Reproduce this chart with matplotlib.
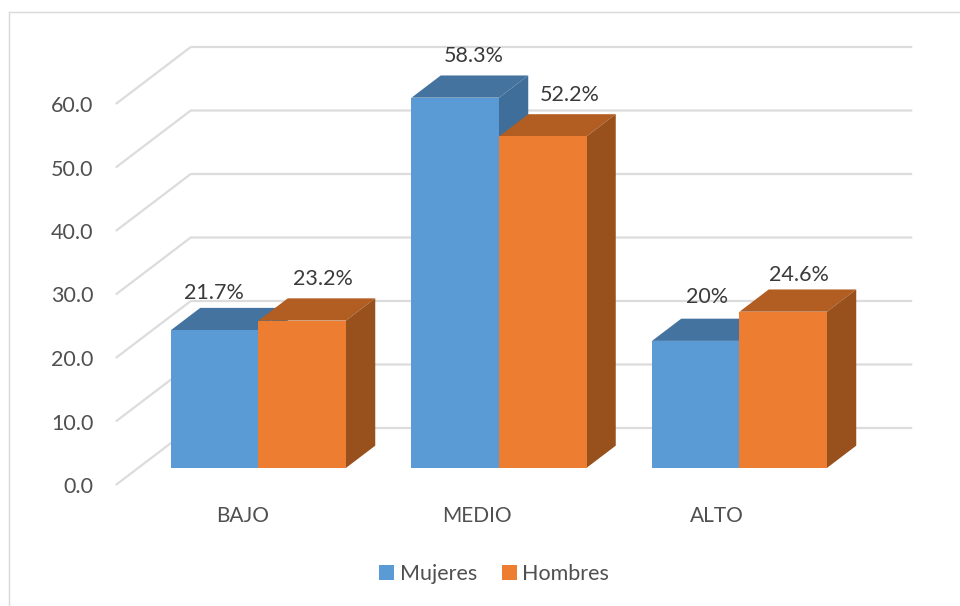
import matplotlib.pyplot as plt
from matplotlib.lines import Line2D
from matplotlib.patches import Patch, Polygon

categorias = ['BAJO', 'MEDIO', 'ALTO']
mujeres = [21.7, 58.3, 20]
hombres = [23.2, 52.2, 24.6]
etiquetas_mujeres = ['21.7%', '58.3%', '20%']
etiquetas_hombres = ['23.2%', '52.2%', '24.6%']
ticks = [0, 10, 20, 30, 40, 50, 60]

plt.rcParams['font.family'] = ['Lato', 'DejaVu Sans']

# oblique projection: depth 0 is the front plane, 1 the back wall
DX = 75 / 240.5
DY = 57 / 6.35
LARGURA = 87.5 / 240.5
Z0, Z1 = 0.30, 0.69


def proj(x, y, z):
    return x + DX * z, y + DY * z


def barra(ax, x, valor, cor, cor_topo, cor_lado):
    p0 = proj(x, 0, Z0)
    p1 = proj(x + LARGURA, 0, Z0)
    p2 = proj(x + LARGURA, valor, Z0)
    p3 = proj(x, valor, Z0)
    p1b = proj(x + LARGURA, 0, Z1)
    p2b = proj(x + LARGURA, valor, Z1)
    p3b = proj(x, valor, Z1)
    ax.add_patch(Polygon([p3, p2, p2b, p3b], fc=cor_topo, ec='none', zorder=3))
    ax.add_patch(Polygon([p1, p1b, p2b, p2], fc=cor_lado, ec='none', zorder=3))
    ax.add_patch(Polygon([p0, p1, p2, p3], fc=cor, ec='none', zorder=3))
    return p3[0] + LARGURA / 2, p3[1]


fig = plt.figure(figsize=(9.6, 6.06), dpi=100)
ax = fig.add_axes([0, 0, 1, 1])
ax.set_xlim(-258.5 / 240.5, (960 - 258.5) / 240.5)
ax.set_ylim(-121 / 6.35, 485 / 6.35)
ax.axis('off')

# chart frame, open at the bottom and right
fig.add_artist(Line2D([8.5 / 960, 8.5 / 960], [0, 1 - 11.5 / 606], color='#D9D9D9', lw=1))
fig.add_artist(Line2D([8.5 / 960, 1], [1 - 11.5 / 606, 1 - 11.5 / 606], color='#D9D9D9', lw=1))

# gridlines: slant on the floor side, then along the back wall
x_ini = -0.5 - DX * Z0
x_fim = x_ini + 3
for t in ticks:
    xs = [x_ini, x_ini + DX, x_fim + DX]
    ys = [t, t + DY, t + DY]
    ax.plot(xs, ys, color='#DCDCDC', lw=1.6, zorder=1, solid_capstyle='butt')
    ax.annotate(f'{t:.1f}', (x_ini, t), xytext=(-22, -2), textcoords='offset pixels',
                ha='right', va='center', fontsize=15.5, color='#505050')

offs_m = [(-1, 37), (19, 42), (11, 44)]
offs_h = [(21, 42), (27, 41), (16, 37)]

for i in range(len(categorias)):
    xm, ym = barra(ax, i - LARGURA - DX * Z0, mujeres[i], '#5B9BD5', '#44739F', '#3F6E9A')
    xh, yh = barra(ax, i - DX * Z0, hombres[i], '#ED7D31', '#B25D22', '#98501C')
    ax.annotate(etiquetas_mujeres[i], (xm, ym), xytext=offs_m[i], textcoords='offset pixels',
                ha='center', va='center', fontsize=15.5, color='#3A3A3A', zorder=5)
    ax.annotate(etiquetas_hombres[i], (xh, yh), xytext=offs_h[i], textcoords='offset pixels',
                ha='center', va='center', fontsize=15.5, color='#3A3A3A', zorder=5)

offs_cat = [-15.5, -22, -22.5]
for i, cat in enumerate(categorias):
    ax.annotate(cat, (i, 0), xytext=(offs_cat[i], -31), textcoords='offset pixels',
                ha='center', va='center', fontsize=15, color='#505050')

fig.legend(handles=[Patch(fc='#5B9BD5', label='Mujeres'), Patch(fc='#ED7D31', label='Hombres')],
           loc='center', bbox_to_anchor=(494 / 960, 1 - 574 / 606), ncol=2, frameon=False,
           fontsize=15.5, labelcolor='#505050', handlelength=0.7, handleheight=0.7,
           handletextpad=0.25, columnspacing=1.15)

plt.savefig('out.png', dpi=100)
